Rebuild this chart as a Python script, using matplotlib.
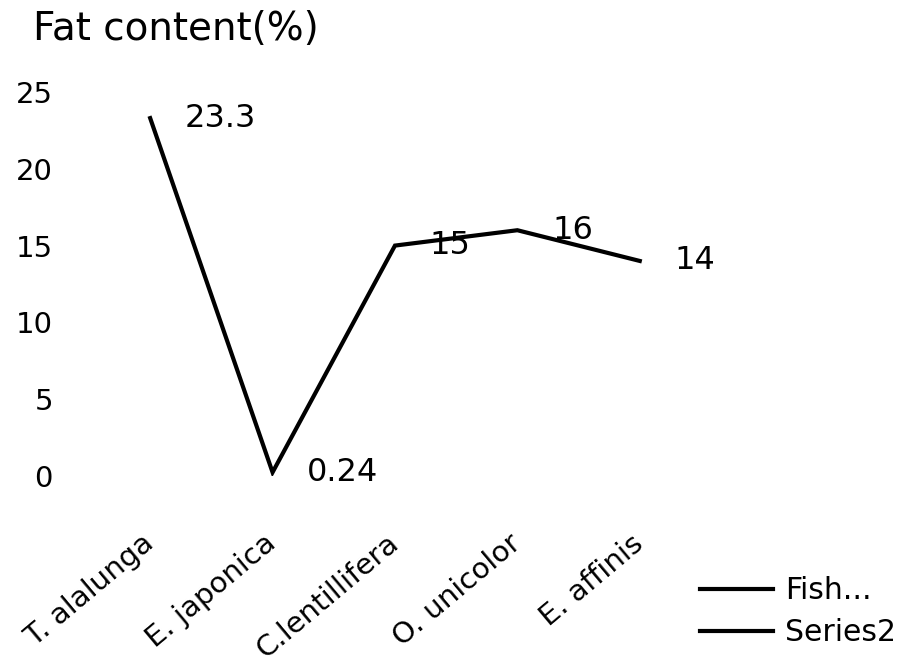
import numpy as np
import matplotlib
matplotlib.use("Agg")
import matplotlib.pyplot as plt

# fat content of each fish species (%)
species = ["T. alalunga", "E. japonica", "C.lentillifera", "O. unicolor", "E. affinis"]
fat_content = [23.3, 0.24, 15, 16, 14]
fat_labels = ["23.3", "0.24", "15", "16", "14"]
series2 = [np.nan, np.nan, np.nan, np.nan, np.nan]  # empty second series, only in the legend
y_ticks = [0, 5, 10, 15, 20, 25]

plt.rcParams['font.family'] = ['DejaVu Sans']

fig = plt.figure(figsize=(9.06, 6.69), dpi=100, facecolor='white')
ax = fig.add_axes([0.0982, 0.2885, 0.6755, 0.574])

x = np.arange(len(species))
ax.plot(x, fat_content, color='black', lw=3, solid_joinstyle='miter', label='Fish...')
ax.plot(x, series2, color='black', lw=3, label='Series2')

# value labels to the right of each point
for xi, yi, txt in zip(x, fat_content, fat_labels):
    ax.annotate(txt, (xi, yi), xytext=(25, 0), textcoords='offset points',
                ha='left', va='center', fontsize=23)

ax.set_xlim(-0.5, len(species) - 0.5)
ax.set_ylim(0, 25)
ax.set_yticks(y_ticks)
ax.set_xticks(x)
ax.set_xticklabels(species, rotation=40, ha='right', va='center',
                   rotation_mode='anchor', fontsize=21)
ax.tick_params(axis='y', length=0, pad=26, labelsize=21)
ax.tick_params(axis='x', length=0, pad=46)
for s in ax.spines.values():
    s.set_visible(False)

fig.text(33 / 906, 1 - 40 / 669, "Fat content(%)", fontsize=28, ha='left', va='baseline')

fig.legend(loc='upper left', bbox_to_anchor=(700 / 906, 1 - 576 / 669), frameon=False,
           fontsize=21.5, handlelength=2.45, handletextpad=0.4, labelspacing=0.45,
           borderpad=0, borderaxespad=0)

fig.savefig("out.png", dpi=100)
